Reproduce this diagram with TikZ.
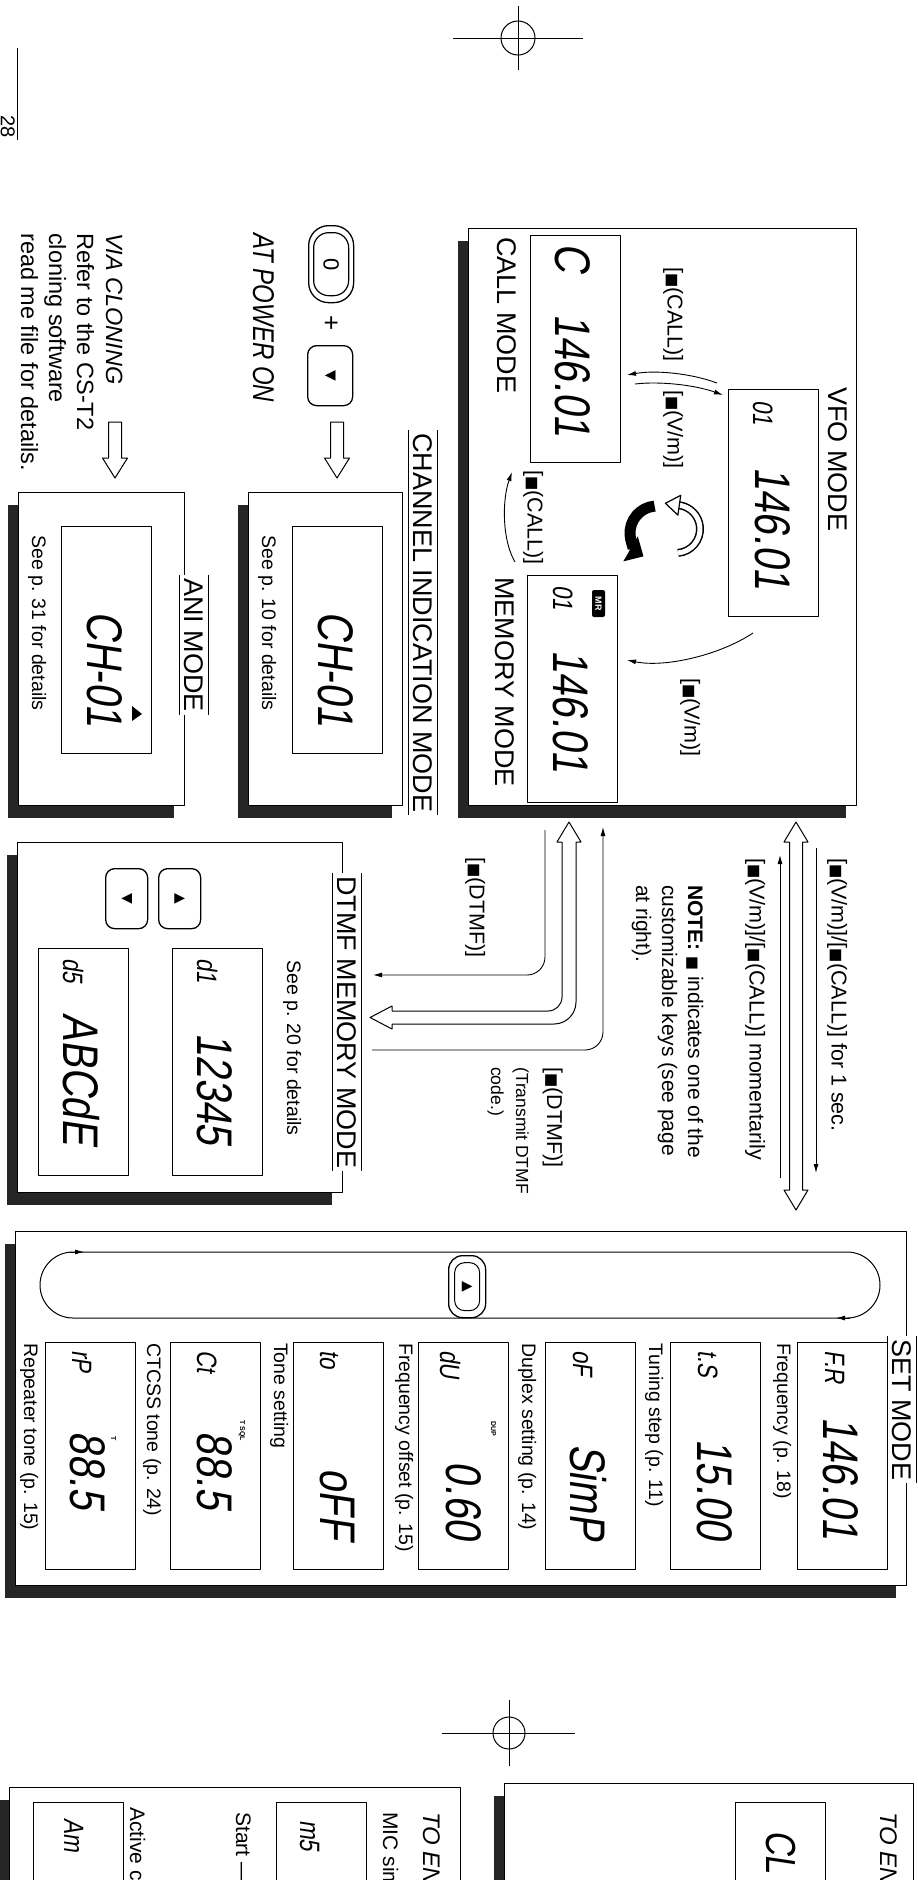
\documentclass[tikz,border=0pt]{standalone}
\usepackage{graphicx}
\usepackage{fontspec}
\setmainfont{Liberation Sans}
\newfontfamily\narrowfont[FakeStretch=0.8]{Liberation Sans}
\newfontfamily\lcdfont[FakeStretch=0.8,FakeSlant=0.15]{Liberation Sans}
\newfontfamily\symfont{DejaVu Sans}
\usetikzlibrary{arrows.meta,shadows}

\newcommand{\fsize}[1]{\fontsize{#1}{#1}\selectfont}
\newcommand{\keysym}{{\symfont\scalebox{0.7}{■}}}

\tikzset{
  panel/.style={draw, line width=1.2pt, fill=white, inner sep=0pt, anchor=north west,
    drop shadow={shadow xshift=-11pt, shadow yshift=-12pt, fill=black!85, opacity=1}},
  lcdbox/.style={draw, line width=0.9pt, fill=white, inner sep=0pt, anchor=north west,
    minimum width=90pt, minimum height=227pt},
  rtext/.style={rotate=-90, inner sep=0pt, anchor=base west},
  rtextend/.style={rotate=-90, inner sep=0pt, anchor=base east},
  modetitle/.style={rotate=-90, fill=white, inner xsep=3pt, inner ysep=0pt,
    minimum height=29pt, anchor=west, font=\fsize{27}},
  bigseg/.style={rtextend, font=\lcdfont\fsize{50}},
  smallseg/.style={rtext, font=\lcdfont\fsize{28}},
  keylabel/.style={rtext, font=\fsize{21.5}},
  note/.style={rtext, font=\fsize{19.5}},
  link/.style={line width=0.9pt, -{Latex[length=9pt,width=5pt]}},
  keycap/.style={draw, line width=1.3pt, fill=white, rounded corners=9pt, inner sep=0pt, anchor=north west},
}

\begin{document}
\begin{tikzpicture}[x=1pt, y=-1pt, line join=round]
\useasboundingbox (0,0) rectangle (918,1880);
\clip (0,0) rectangle (918,1880);

% register marks and page number
\draw[line width=1pt] (453,38) -- (583,38) (518,6) -- (518,70);
\draw[line width=1pt] (518,38) circle[radius=17];
\draw[line width=1pt] (442,1733) -- (575,1733) (509,1700) -- (509,1766);
\draw[line width=1pt] (509,1733) circle[radius=16];
\draw[line width=1pt] (17,48) -- (17,140);
\node[rtext, font=\fsize{20}] (pageNo) at (1,115) {28};

% mode panels
\node[panel, minimum width=388pt, minimum height=577pt] (mainPanel) at (468,228) {};
\node[panel, minimum width=154pt, minimum height=313pt] (chanPanel) at (248,492) {};
\node[panel, minimum width=166pt, minimum height=313pt] (aniPanel) at (18,492) {};
\node[panel, minimum width=325pt, minimum height=350pt] (dtmfPanel) at (17,842) {};
\node[panel, minimum width=891pt, minimum height=354pt] (setPanel) at (15,1231) {};
\node[panel, minimum width=451pt, minimum height=140pt] (micPanel) at (9,1787) {};
\node[panel, minimum width=409pt, minimum height=140pt] (lockPanel) at (504,1783) {};

% displays
\node[lcdbox] (callLcd) at (530,235) {};
\node[lcdbox] (vfoLcd) at (728,389) {};
\node[lcdbox] (memLcd) at (527,575) {};
\node[lcdbox] (chanLcd) at (292,526) {};
\node[lcdbox] (aniLcd) at (61,526) {};
\node[lcdbox] (dtmfLcdA) at (172,948) {};
\node[lcdbox] (dtmfLcdB) at (38,948) {};
\foreach \x [count=\i] in {797,670,545,418,293,170,45}
  \node[lcdbox] (setLcd\i) at (\x,1342) {};
\node[lcdbox] (micLcdA) at (276,1802) {};
\node[lcdbox] (micLcdB) at (33,1802) {};
\node[lcdbox] (lockLcd) at (735,1802) {};

% display readouts
\node[rtext, font=\lcdfont\fsize{50}] (callMark) at (555,243) {C};
\node[bigseg] (callFreq) at (555,437) {146.01};
\node[smallseg] (vfoCh) at (753,400) {01};
\node[bigseg] (vfoFreq) at (755,590) {146.01};
\node[smallseg] (memCh) at (553,585) {01};
\node[bigseg] (memFreq) at (553,773) {146.01};
\node[rotate=-90, fill=black, text=white, rounded corners=2pt, inner sep=0pt,
  minimum width=27pt, minimum height=13pt, font=\bfseries\fsize{9}] (memIcon) at (598.5,603.5) {MR};
\node[bigseg] (chanRead) at (318,727) {CH-01};
\node[bigseg] (aniRead) at (87,727) {CH-01};
\fill (132,706) -- (142,714) -- (132,721) -- cycle;
\node[smallseg] (dtmfChA) at (197,958) {d1};
\node[bigseg] (dtmfCodeA) at (197,1145) {12345};
\node[smallseg] (dtmfChB) at (63,958) {d5};
\node[bigseg] (dtmfCodeB) at (63,1145) {ABCdE};
\foreach \x/\t [count=\i] in {825/F.R, 698/t.S, 573/oF, 440/dU, 320/to, 197/Ct, 72/rP}
  \node[smallseg] (setItem\i) at (\x,1350) {\t};
\foreach \x/\e/\t [count=\i] in {823/1540/146.01, 697/1540/15.00, 570/1540/SimP, 446/1540/0.60, 320/1540/oFF, 197/1510/88.5, 70/1510/88.5}
  \node[bigseg] (setVal\i) at (\x,\e) {\t};
\node[rtext, font=\bfseries\fsize{7}] (dupMark) at (491,1421) {DUP};
\node[rtext, font=\bfseries\fsize{7}] (tsqlMark) at (240,1420) {T SQL};
\node[rtext, font=\bfseries\fsize{7}] (toneMark) at (111,1436) {T};
\node[smallseg] (micRead) at (300,1820) {m5};
\node[smallseg] (actRead) at (64,1818) {Am};
\node[rtext, font=\lcdfont\fsize{42}] (lockRead) at (766,1830) {CL};

% mode names
\node[rtext, font=\fsize{27}] (vfoName) at (828,387) {VFO MODE};
\node[rtext, font=\fsize{27}] (callName) at (497,237) {CALL MODE};
\node[rtext, font=\fsize{27}] (memName) at (495,577) {MEMORY MODE};
\node[modetitle] (chanTitle) at (423,430) {CHANNEL INDICATION MODE};
\node[modetitle] (aniTitle) at (194,575) {ANI MODE};
\node[modetitle] (dtmfTitle) at (347,873) {DTMF MEMORY MODE};
\node[modetitle] (setTitle) at (902,1336) {SET MODE};
\foreach \t in {chanTitle,aniTitle,dtmfTitle,setTitle}
  \draw[line width=1.2pt] (\t.south west) -- (\t.south east) (\t.north west) -- (\t.north east);

% keys
\node[keycap, rounded corners=20pt, minimum width=45pt, minimum height=77pt] (zeroKey) at (308,225) {};
\node[draw, line width=1.2pt, rounded corners=15pt, minimum width=35pt, minimum height=63pt, inner sep=0pt] (zeroKeyIn) at (zeroKey.center) {};
\node[rotate=-90, font=\fsize{22}] (zeroKeyMark) at (zeroKey.center) {0};
\node[rotate=-90, font=\fsize{26}] (plusSign) at (330,323) {+};
\node[keycap, minimum width=45pt, minimum height=60pt] (downKey) at (307,345) {};
\node[rotate=-90, font=\symfont\fsize{14}] (downKeyMark) at (downKey.center) {▼};
\node[keycap, minimum width=42pt, minimum height=60pt] (dtmfDown) at (105,868) {};
\node[rotate=-90, font=\symfont\fsize{14}] (dtmfDownMark) at (dtmfDown.center) {▼};
\node[keycap, minimum width=42pt, minimum height=60pt] (dtmfUp) at (158,868) {};
\node[rotate=-90, font=\symfont\fsize{14}] (dtmfUpMark) at (dtmfUp.center) {▲};

% entry notes
\node[rtext, font=\narrowfont\itshape\fsize{30}] (powerOn) at (253,233) {AT POWER ON};
\node[rtext, font=\itshape\fsize{23.5}] (viaClone) at (106,233) {VIA CLONING};
\foreach \x/\t [count=\i] in {77/Refer to the CS-T2, 49/cloning software, 21/read me file for details.}
  \node[rtext, font=\fsize{23.5}] (cloneLine\i) at (\x,233) {\t};
\foreach \x in {115,337}
  \draw[line width=1pt, fill=white] (\x-6.5,422) -- ++(13,0) -- ++(0,36) -- ++(6,0) -- (\x,478) -- (\x-12.5,458) -- ++(6,0) -- cycle;

\node[note] (chanRef) at (262,535) {See p. 10 for details};
\node[note] (aniRef) at (32,535) {See p. 31 for details};
\node[note] (dtmfRef) at (287,960) {See p. 20 for details};

% rotating arrows between the three modes
\draw[line width=8pt] (676,529) ++(85:24) arc[start angle=85, end angle=-82, radius=24];
\draw[line width=5pt, white] (676,529) ++(85:24) arc[start angle=85, end angle=-82, radius=24];
\draw[line width=11pt, -{Triangle[width=28pt,length=15pt]}] (657,533) ++(265:27) arc[start angle=265, end angle=120, radius=27];
\draw[line width=1.2pt, fill=white] (680.7,495.3) -- (665.4,503.3) -- (677.9,515.1) -- cycle;

% key labels
\node[keylabel] (callKeyA) at (667.5,267) {[\keysym(CALL)]};
\node[keylabel] (vmKeyA) at (667.5,390) {[\keysym(V/m)]};
\node[keylabel] (callKeyB) at (527.5,470) {[\keysym(CALL)]};
\node[keylabel] (vmKeyB) at (684.5,678) {[\keysym(V/m)]};
\node[keylabel] (dtmfKeyA) at (469.5,857) {[\keysym(DTMF)]};
\node[keylabel] (longPress) at (831.5,858) {[\keysym(V/m)]/[\keysym(CALL)] for 1 sec.};
\node[keylabel] (shortPress) at (749.5,858) {[\keysym(V/m)]/[\keysym(CALL)] momentarily};
\node[keylabel] (dtmfKeyB) at (547,1067) {[\keysym(DTMF)]};
\node[rtext, font=\fsize{17.5}] (transmitA) at (516,1067) {(Transmit DTMF};
\node[rtext, font=\fsize{17.5}] (transmitB) at (491,1067) {code.)};
\node[rtext, font=\fsize{21}] (noteA) at (688,885) {\textbf{NOTE:} \keysym{} indicates one of the};
\node[rtext, font=\fsize{21}] (noteB) at (662,885) {customizable keys (see page};
\node[rtext, font=\fsize{21}] (noteC) at (636,885) {at right).};

% connectors
\coordinate (vfoCallA) at (717,383);
\coordinate (callVfoA) at (627,375);
\coordinate (callVfoB) at (635,384);
\coordinate (vfoCallB) at (723,395);
\coordinate (memCall) at (515,562);
\coordinate (callMem) at (512,472);
\coordinate (memVfo) at (627,660);
\coordinate (vfoMem) at (753,633);
\draw[link] (vfoCallA) .. controls (690,373) and (655,370) .. (callVfoA);
\draw[link] (callVfoB) .. controls (660,381) and (695,385) .. (vfoCallB);
\draw[link] (memCall) .. controls (502,540) and (502,500) .. (callMem);
\draw[link, {Latex[length=9pt,width=5pt]}-] (memVfo) .. controls (665,668) and (720,655) .. (vfoMem);

\coordinate (mainLongOut) at (816,848);
\coordinate (setLongIn) at (816,1173);
\coordinate (setShortOut) at (780,1178);
\coordinate (mainShortIn) at (780,855);
\draw[link] (mainLongOut) -- (setLongIn);
\draw[link] (setShortOut) -- (mainShortIn);
\draw[line width=1pt, fill=white] (796,822) -- (808,842) -- (802.5,842) -- (802.5,1190) -- (808,1190)
  -- (796,1210) -- (784,1190) -- (789.5,1190) -- (789.5,842) -- (784,842) -- cycle;

\coordinate (dtmfSendTop) at (545,830);
\coordinate (dtmfSendEnd) at (373,975);
\coordinate (dtmfBackStart) at (372,1050);
\coordinate (dtmfBackEnd) at (603,827);
\draw[link, rounded corners=18pt] (dtmfSendTop) |- (dtmfSendEnd);
\draw[link, rounded corners=18pt] (dtmfBackStart) -| (dtmfBackEnd);
\draw[line width=1pt] (562,842) -- (557,842) -- (569,822) -- (581,842) -- (576,842);
\draw[line width=1pt, rounded corners=14pt] (562,842) |- (392,1011);
\draw[line width=1pt, rounded corners=22pt] (576,842) |- (392,1024);
\draw[line width=1pt] (392,1011) -- (392,1006) -- (370,1017.5) -- (392,1029) -- (392,1024);

% set mode loop
\draw[line width=1pt, rounded corners=33pt] (40,1252) rectangle (880,1318);
\draw[link] (70,1252) -- (84,1252);
\draw[link] (850,1318) -- (836,1318);
\node[keycap, rounded corners=14pt, minimum width=37pt, minimum height=62pt] (setKey) at (448,1255) {};
\node[draw, line width=1pt, rounded corners=10pt, minimum width=25pt, minimum height=48pt, inner sep=0pt] (setKeyIn) at (setKey.center) {};
\node[rotate=-90, font=\symfont\fsize{14}] (setKeyMark) at (setKey.center) {▲};
\foreach \x/\t [count=\i] in {777/Frequency (p. 18), 649/Tuning step (p. 11), 522/Duplex setting (p. 14), 399/Frequency offset (p. 15), 274/Tone setting, 147/CTCSS tone (p. 24), 24/Repeater tone (p. 15)}
  \node[note] (setLabel\i) at (\x,1343) {\t};

% next page
\node[rtext, font=\itshape\fsize{24}] (micHead) at (423,1812) {TO EN};
\node[rtext, font=\fsize{21}] (micLine) at (383,1812) {MIC sim};
\node[rtext, font=\fsize{21}] (micStart) at (236,1812) {Start —};
\node[rtext, font=\fsize{21}] (micActive) at (130,1807) {Active c};
\node[rtext, font=\itshape\fsize{24}] (lockHead) at (880,1812) {TO EN};
\end{tikzpicture}
\end{document}
